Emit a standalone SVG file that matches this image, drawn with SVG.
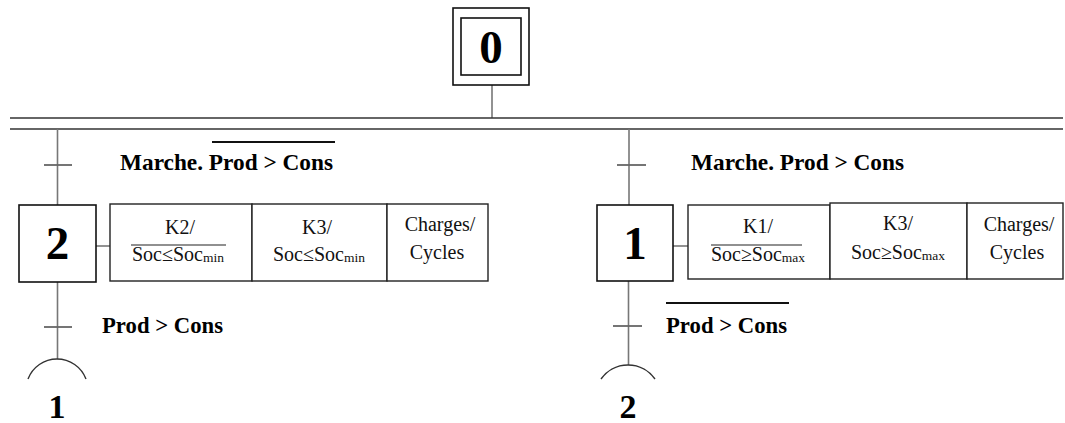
<svg xmlns="http://www.w3.org/2000/svg" width="1065" height="423" viewBox="0 0 1065 423">
  <style>
    .box { fill: #fff; stroke: #111; stroke-width: 1.6; }
    .cell { fill: #fff; stroke: #222; stroke-width: 1.4; }
    .link { fill: none; stroke: #777; stroke-width: 1.6; }
    .tick { fill: none; stroke: #666; stroke-width: 1.8; }
    .bar { fill: none; stroke: #333; stroke-width: 1.4; }
    .over { fill: none; stroke: #111; stroke-width: 2.2; }
    .thin-over { fill: none; stroke: #222; stroke-width: 1.2; }
    .num { font-family: "Liberation Serif", "Times New Roman", serif; font-weight: bold; font-size: 47px; fill: #000; text-anchor: middle; }
    .lbl { font-family: "Liberation Serif", "Times New Roman", serif; font-weight: bold; font-size: 34px; fill: #000; text-anchor: middle; }
    .cond { font-family: "Liberation Serif", "Times New Roman", serif; font-weight: bold; font-size: 22.5px; fill: #000; }
    .act { font-family: "Liberation Serif", "Times New Roman", serif; font-size: 20px; fill: #111; text-anchor: middle; }
    .sub { font-size: 13.5px; }
  </style>

  <!-- links, transitions and the parallel bars -->
  <g id="connectors">
    <line class="link" x1="492" y1="85" x2="492" y2="118"/>
    <line class="bar" x1="10" y1="118" x2="1063" y2="118"/>
    <line class="bar" x1="10" y1="129" x2="1063" y2="129"/>

    <!-- left branch -->
    <line class="link" x1="57.5" y1="129" x2="57.5" y2="205"/>
    <line class="tick" x1="44" y1="165" x2="72" y2="165"/>
    <line class="link" x1="96" y1="246" x2="110" y2="246"/>
    <line class="link" x1="57.5" y1="282" x2="57.5" y2="359"/>
    <line class="tick" x1="44" y1="327" x2="72" y2="327"/>
    <path class="bar" d="M28,379 A31,31 0 0 1 86,379"/>

    <!-- right branch -->
    <line class="link" x1="629" y1="129" x2="629" y2="205"/>
    <line class="tick" x1="617" y1="165" x2="646" y2="165"/>
    <line class="link" x1="673" y1="246" x2="688" y2="246"/>
    <line class="link" x1="628.5" y1="281" x2="628.5" y2="365"/>
    <line class="tick" x1="613" y1="326" x2="642" y2="326"/>
    <path class="bar" d="M601,379 A33,33 0 0 1 655,379"/>
  </g>

  <!-- transition conditions -->
  <g id="conditions">
    <text class="cond" x="120" y="170" textLength="213" lengthAdjust="spacingAndGlyphs">Marche. Prod &gt; Cons</text>
    <line class="over" x1="212" y1="142" x2="335" y2="142"/>
    <text class="cond" x="102" y="333" textLength="121" lengthAdjust="spacingAndGlyphs">Prod &gt; Cons</text>

    <text class="cond" x="691" y="170" textLength="213" lengthAdjust="spacingAndGlyphs">Marche. Prod &gt; Cons</text>
    <text class="cond" x="666" y="333" textLength="121" lengthAdjust="spacingAndGlyphs">Prod &gt; Cons</text>
    <line class="over" x1="666" y1="303" x2="789" y2="303"/>
  </g>

  <!-- initial step -->
  <g id="step-0">
    <rect class="box" x="453" y="8" width="76" height="77"/>
    <rect class="box" x="461" y="18" width="60" height="57"/>
    <text class="num" x="491" y="63">0</text>
  </g>

  <!-- step 2 and its actions -->
  <g id="step-2">
    <rect class="box" x="19" y="205" width="77" height="77"/>
    <text class="num" x="57.5" y="259">2</text>
  </g>
  <g id="actions-2">
    <rect class="cell" x="110" y="204" width="142" height="77"/>
    <rect class="cell" x="252" y="204" width="135" height="77"/>
    <rect class="cell" x="387" y="204" width="101" height="77"/>
    <text class="act" x="180" y="234">K2/</text>
    <line class="thin-over" x1="131" y1="245" x2="226" y2="245"/>
    <text class="act" x="178" y="261">Soc≤Soc<tspan class="sub" dy="1">min</tspan></text>
    <text class="act" x="317" y="234">K3/</text>
    <text class="act" x="319" y="261">Soc≤Soc<tspan class="sub" dy="1">min</tspan></text>
    <text class="act" x="440" y="231">Charges/</text>
    <text class="act" x="437" y="259">Cycles</text>
  </g>

  <!-- step 1 and its actions -->
  <g id="step-1">
    <rect class="box" x="597" y="205" width="76" height="76"/>
    <text class="num" x="635" y="259">1</text>
  </g>
  <g id="actions-1">
    <rect class="cell" x="688" y="205" width="142" height="74"/>
    <rect class="cell" x="830" y="203" width="137" height="76"/>
    <rect class="cell" x="967" y="203" width="96" height="76"/>
    <text class="act" x="758" y="233">K1/</text>
    <line class="thin-over" x1="711" y1="245" x2="802" y2="245"/>
    <text class="act" x="758" y="261">Soc≥Soc<tspan class="sub" dy="1">max</tspan></text>
    <text class="act" x="898" y="230">K3/</text>
    <text class="act" x="898" y="259">Soc≥Soc<tspan class="sub" dy="1">max</tspan></text>
    <text class="act" x="1019" y="231">Charges/</text>
    <text class="act" x="1017" y="259">Cycles</text>
  </g>

  <!-- jump targets -->
  <g id="jump-1">
    <text class="lbl" x="57" y="418">1</text>
  </g>
  <g id="jump-2">
    <text class="lbl" x="628" y="418">2</text>
  </g>
</svg>
